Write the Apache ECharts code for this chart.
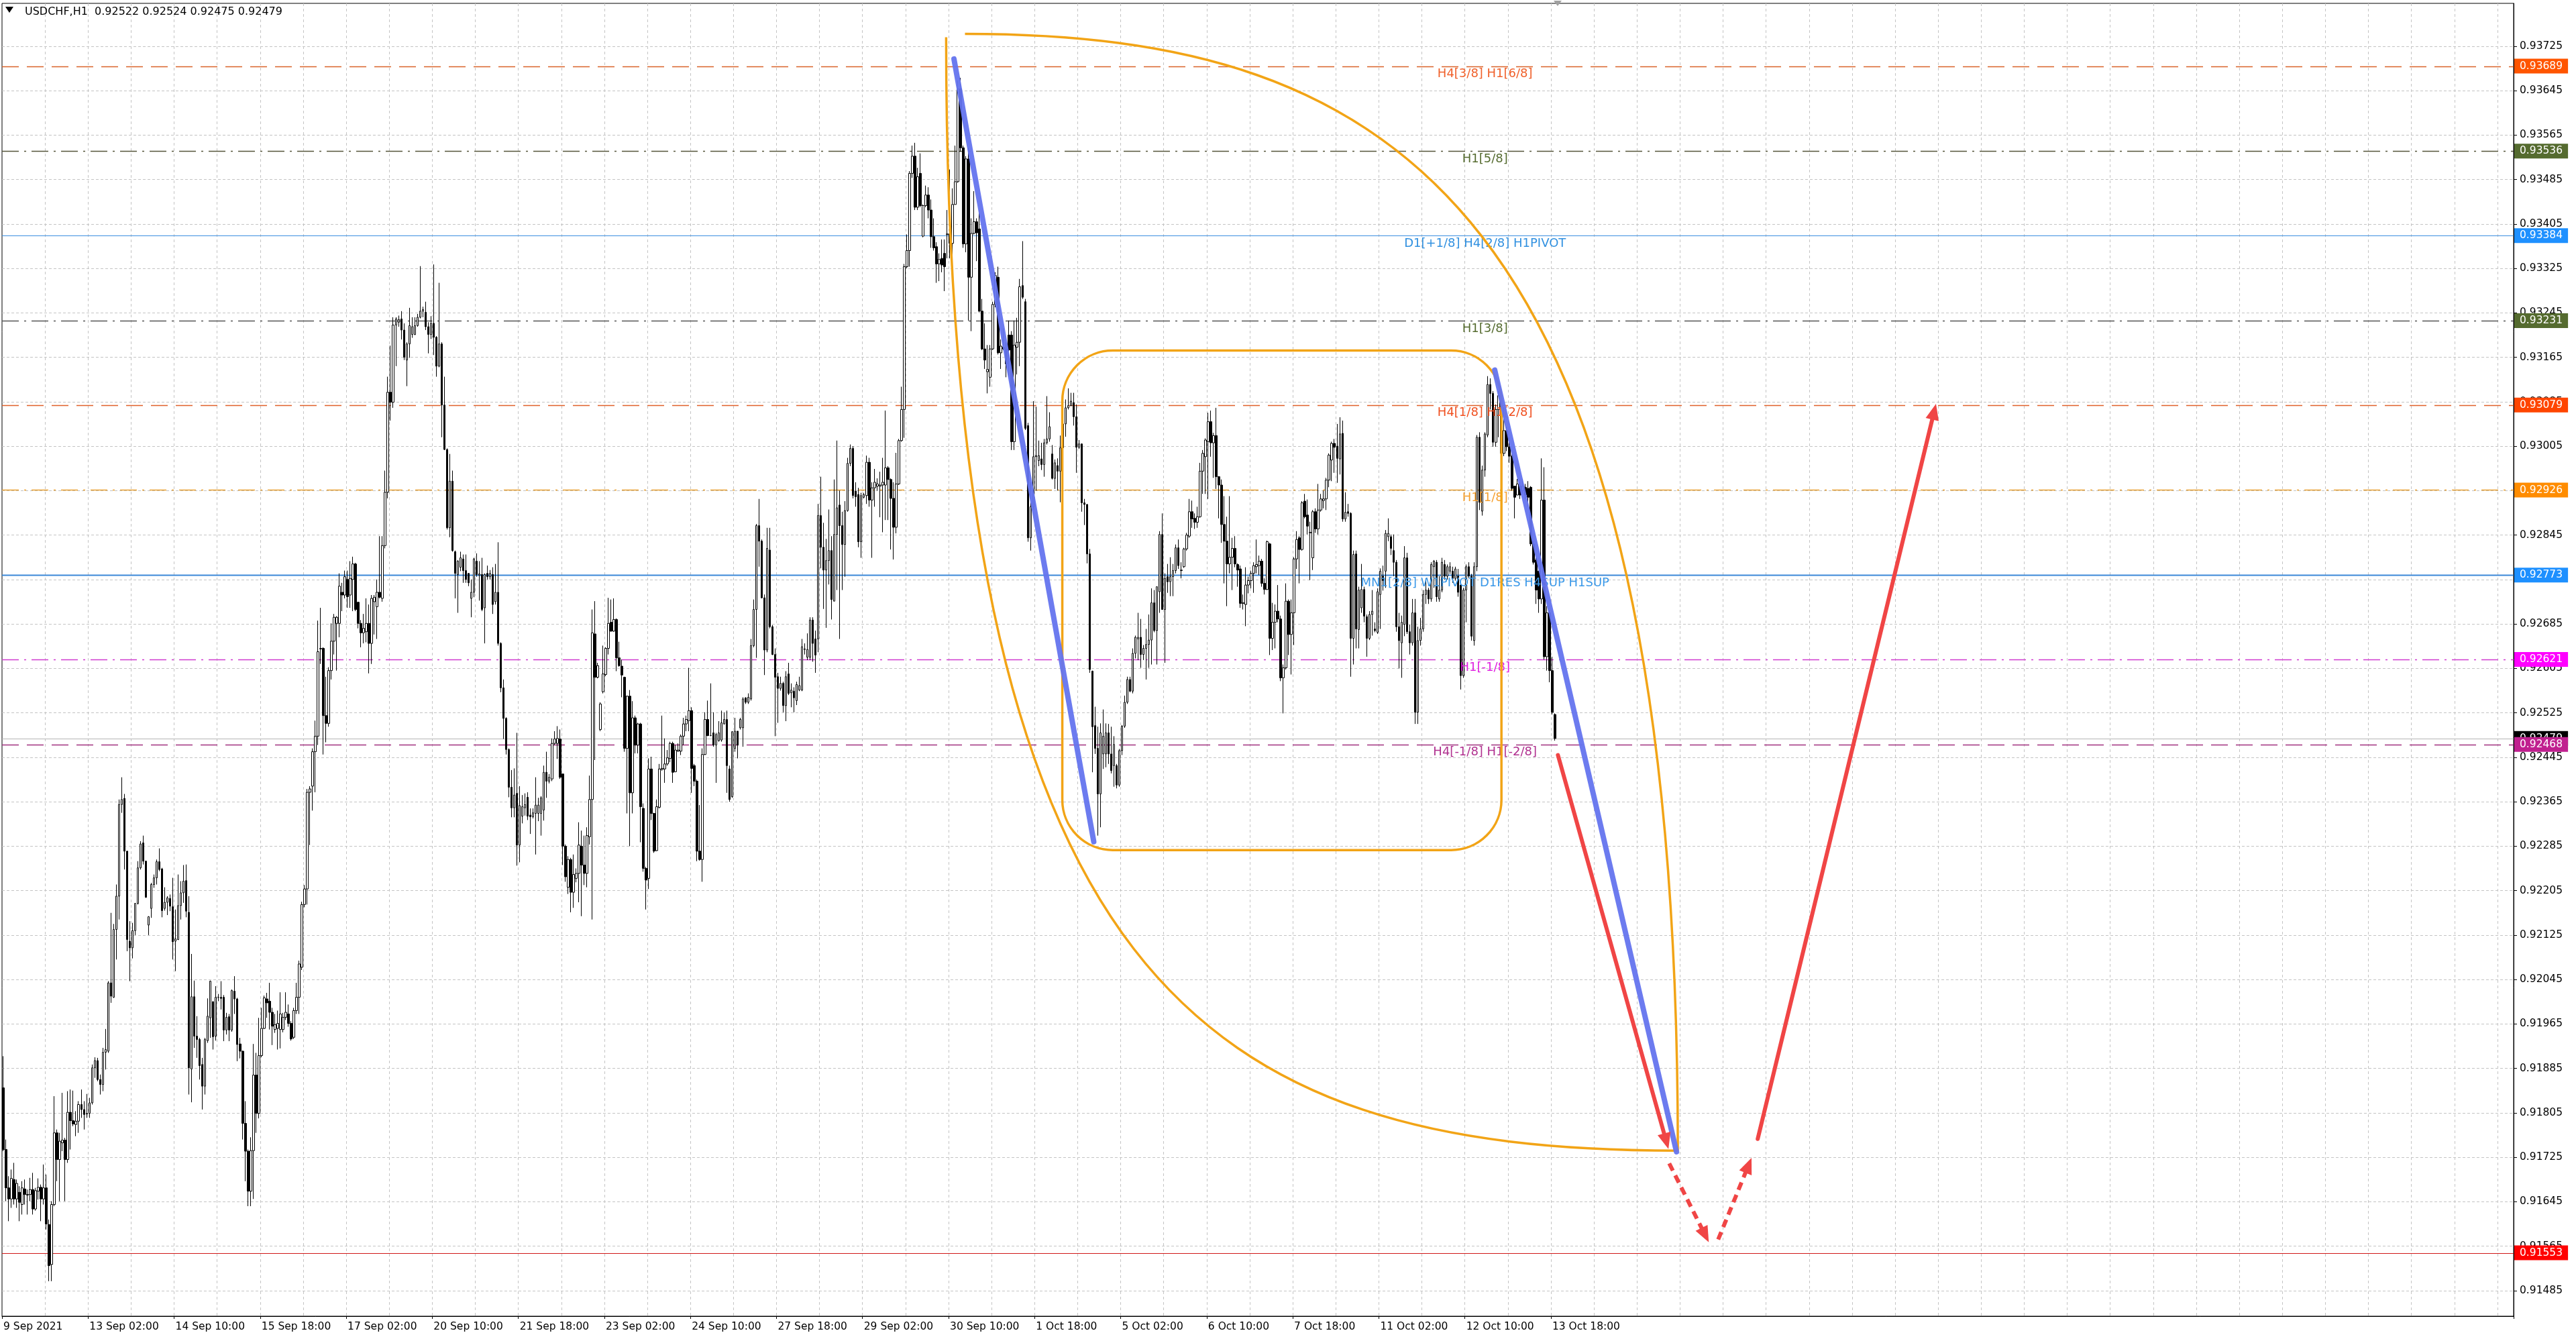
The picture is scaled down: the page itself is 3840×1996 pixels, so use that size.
<!DOCTYPE html>
<html>
<head>
<meta charset="utf-8">
<title>USDCHF,H1</title>
<script src="https://cdn.jsdelivr.net/npm/echarts@6/dist/echarts.min.js"></script>
<style>
  html, body { margin: 0; padding: 0; background: #fff; }
  #chart { width: 3840px; height: 1996px; }
</style>
</head>
<body>
<div id="chart"></div>
<script>
// USDCHF H1 - hourly bars, 9 Sep 2021 18:00 .. 13 Oct 2021 19:00
var symbol = "USDCHF,H1";
var slotCount = 934; // bars that fit in the window incl. the empty shift area

// one label every 32 bars
var tickLabels = ["9 Sep 2021", "13 Sep 02:00", "14 Sep 10:00", "15 Sep 18:00", "17 Sep 02:00",
  "20 Sep 10:00", "21 Sep 18:00", "23 Sep 02:00", "24 Sep 10:00", "27 Sep 18:00", "29 Sep 02:00",
  "30 Sep 10:00", "1 Oct 18:00", "5 Oct 02:00", "6 Oct 10:00", "7 Oct 18:00", "11 Oct 02:00",
  "12 Oct 10:00", "13 Oct 18:00"];

var priceTicks = [0.93725, 0.93645, 0.93565, 0.93485, 0.93405, 0.93325, 0.93245, 0.93165, 0.93085,
  0.93005, 0.92925, 0.92845, 0.92765, 0.92685, 0.92605, 0.92525, 0.92445, 0.92365, 0.92285,
  0.92205, 0.92125, 0.92045, 0.91965, 0.91885, 0.91805, 0.91725, 0.91645, 0.91565, 0.91485];

// open, high, low, close in 0.00001
var bars = [
  [91850,91907,91736,91739],[91739,91757,91646,91670],[91670,91691,91610,91650],[91650,91703,91634,91687],
  [91685,91715,91640,91650],[91650,91685,91634,91678],[91662,91673,91610,91644],[91640,91682,91622,91670],
  [91668,91685,91640,91658],[91658,91667,91622,91657],[91658,91688,91646,91667],[91667,91697,91622,91632],
  [91632,91670,91629,91665],[91664,91687,91649,91671],[91671,91676,91610,91650],[91650,91712,91640,91670],
  [91670,91694,91595,91605],[91604,91613,91502,91530],[91532,91646,91502,91640],[91640,91835,91637,91769],
  [91769,91775,91682,91721],[91721,91769,91646,91754],[91751,91841,91736,91756],[91756,91760,91646,91721],
  [91721,91844,91715,91806],[91806,91847,91739,91791],[91791,91845,91781,91785],[91784,91808,91763,91790],
  [91790,91826,91769,91820],[91820,91847,91796,91811],[91811,91826,91775,91802],[91804,91839,91796,91803],
  [91804,91832,91796,91823],[91823,91892,91820,91886],[91886,91905,91868,91899],[91899,91904,91862,91865],
  [91865,91874,91838,91856],[91856,91922,91844,91914],[91914,91956,91883,91919],[91916,92042,91913,92039],
  [92039,92165,92003,92015],[92013,92145,92012,92135],[92135,92216,92081,92195],[92195,92369,92153,92360],
  [92360,92409,92345,92369],[92371,92379,92243,92276],[92276,92276,92096,92117],[92114,92150,92042,92102],
  [92102,92147,92083,92133],[92133,92182,92125,92182],[92182,92258,92180,92246],[92246,92294,92243,92289],
  [92291,92304,92252,92258],[92258,92259,92192,92193],[92143,92159,92125,92158],[92173,92219,92156,92216],
  [92216,92234,92210,92228],[92228,92261,92216,92257],[92257,92281,92240,92243],[92244,92246,92157,92169],
  [92173,92211,92169,92184],[92184,92195,92161,92192],[92191,92198,92168,92177],[92176,92228,92081,92113],
  [92114,92171,92060,92118],[92117,92234,92116,92178],[92178,92222,92153,92201],[92201,92251,92183,92222],
  [92223,92252,92157,92168],[92166,92195,91838,91886],[91884,92091,91824,92014],[92014,92043,91922,91943],
  [91943,91979,91904,91937],[91937,91940,91865,91890],[91892,91904,91811,91853],[91853,91940,91838,91937],
  [91935,92011,91931,91979],[91976,92043,91940,92042],[92005,92006,91919,91942],[91943,92033,91935,92013],
  [92013,92019,92006,92013],[92013,92042,91991,92011],[92013,92017,91934,91954],[91954,91985,91946,91977],
  [91978,91983,91934,91954],[91954,92027,91951,92025],[92024,92051,91983,92010],[92010,92012,91898,91928],
  [91929,91940,91903,91916],[91916,91917,91757,91786],[91786,91826,91682,91736],[91736,91739,91637,91664],
  [91664,91761,91637,91737],[91737,91929,91650,91873],[91873,91913,91769,91804],[91804,91976,91795,91908],
  [91908,91994,91905,91957],[91957,92016,91956,92012],[92010,92021,91976,92003],
  [92006,92039,91955,91986],[91986,91994,91927,91961],[91955,91983,91949,91964],[91957,91989,91919,91966],
  [91955,92022,91921,91983],[91955,91985,91950,91977],[91977,92022,91972,91986],[91983,92000,91960,91966],
  [91966,91970,91935,91938],[91941,91994,91938,91989],[91989,92039,91983,92013],[92013,92079,91983,92073],
  [92067,92185,92062,92180],[92180,92215,92175,92208],[92208,92388,92180,92382],[92382,92393,92287,92388],
  [92393,92461,92349,92455],[92455,92511,92382,92483],[92483,92691,92467,92635],[92640,92714,92613,92641],
  [92641,92643,92450,92520],[92520,92590,92472,92506],[92506,92607,92500,92601],[92601,92686,92585,92654],
  [92654,92703,92630,92697],[92686,92699,92601,92697],[92686,92776,92661,92753],[92742,92759,92708,92737],
  [92737,92781,92731,92770],[92765,92781,92714,92734],[92737,92798,92714,92767],[92765,92806,92708,92793],
  [92793,92795,92708,92711],[92724,92725,92677,92686],[92686,92692,92643,92669],[92669,92703,92650,92677],
  [92671,92731,92652,92686],[92686,92720,92596,92650],[92650,92737,92613,92731],[92725,92737,92666,92733],
  [92716,92765,92658,92742],[92742,92843,92731,92733],[92731,92843,92725,92826],[92826,92961,92821,92922],
  [92922,93130,92911,93102],[93102,93186,93051,93084],[93084,93237,93074,93223],[93223,93237,93149,93234],
  [93228,93240,93220,93233],[93234,93248,93197,93214],[93214,93226,93160,93165],[93160,93192,93113,93189],
  [93189,93254,93164,93222],[93206,93237,93200,93220],[93206,93237,93205,93222],[93222,93243,93220,93237],
  [93237,93329,93235,93248],[93248,93256,93237,93251],[93246,93265,93214,93220],[93220,93228,93172,93206],
  [93206,93239,93198,93226],[93226,93332,93169,93201],[93201,93203,93130,93149],[93149,93299,93147,93189],
  [93189,93192,93021,93079],[93079,93130,92998,92999],[92999,93001,92855,92858],[92858,92991,92841,92942],
  [92942,92961,92815,92817],[92815,92817,92731,92776],[92774,92800,92705,92798],[92787,92815,92780,92804],
  [92802,92810,92759,92781],[92781,92810,92759,92765],[92776,92776,92753,92759],[92731,92765,92697,92742],
  [92742,92804,92733,92802],[92798,92812,92770,92774],[92773,92798,92727,92775],[92774,92804,92708,92711],
  [92714,92776,92650,92774],[92776,92790,92765,92770],[92770,92782,92765,92776],[92774,92787,92703,92720],
  [92725,92793,92720,92742],[92742,92832,92646,92650],[92650,92652,92562,92570],[92570,92585,92478,92515],
  [92515,92517,92450,92459],[92459,92461,92373,92391],[92391,92422,92337,92354],[92354,92425,92337,92377],
  [92380,92489,92250,92287],[92287,92393,92256,92358],[92339,92377,92326,92356],[92354,92380,92340,92360],
  [92373,92382,92332,92339],
  [92341,92353,92307,92338],[92338,92353,92335,92345],[92344,92409,92270,92359],[92344,92372,92330,92359],
  [92344,92375,92304,92372],[92350,92430,92331,92418],[92418,92455,92372,92402],[92402,92415,92398,92409],
  [92406,92479,92402,92470],[92470,92492,92467,92478],[92470,92501,92442,92479],[92478,92495,92406,92409],
  [92415,92415,92251,92285],[92285,92288,92221,92230],[92211,92267,92199,92261],[92261,92264,92166,92202],
  [92202,92270,92174,92234],[92227,92245,92220,92236],[92236,92328,92184,92287],[92285,92313,92159,92251],
  [92251,92304,92215,92236],[92236,92319,92211,92304],[92302,92412,92288,92369],[92369,92711,92153,92669],
  [92667,92726,92440,92589],[92589,92615,92587,92610],[92495,92544,92492,92541],[92563,92646,92560,92595],
  [92594,92643,92591,92641],[92641,92732,92630,92686],[92688,92729,92671,92672],[92672,92731,92671,92693],
  [92693,92695,92600,92624],[92624,92653,92608,92610],[92609,92621,92553,92593],[92589,92590,92455,92461],
  [92461,92556,92344,92555],[92555,92566,92285,92381],[92381,92546,92344,92516],[92516,92520,92452,92467],
  [92467,92507,92452,92505],[92505,92507,92292,92356],[92353,92362,92239,92245],[92245,92248,92171,92224],
  [92227,92443,92208,92424],[92424,92446,92332,92344],[92344,92345,92273,92276],[92277,92369,92276,92356],
  [92355,92433,92353,92424],[92423,92520,92421,92425],[92424,92479,92399,92433],[92433,92458,92430,92444],
  [92443,92473,92436,92470],[92470,92473,92399,92418],[92419,92467,92418,92458],[92456,92470,92455,92458],
  [92456,92486,92449,92483],[92483,92516,92467,92505],[92505,92520,92492,92513],[92511,92606,92492,92529],
  [92529,92535,92381,92425],[92430,92433,92393,92402],[92402,92405,92258,92276],[92276,92359,92259,92261],
  [92261,92461,92221,92450],[92450,92526,92449,92513],[92513,92547,92483,92484],[92484,92578,92483,92484],
  [92489,92526,92464,92467],[92467,92489,92399,92486],[92475,92510,92473,92489],[92476,92529,92473,92507],
  [92505,92526,92504,92513],[92513,92529,92381,92430],[92424,92430,92365,92369],[92374,92492,92372,92491],
  [92461,92516,92455,92492],[92492,92492,92443,92467],[92498,92516,92495,92513],[92498,92553,92464,92550],
  [92552,92553,92541,92544],[92544,92560,92541,92553],[92550,92658,92547,92646],[92646,92729,92643,92711],
  [92711,92865,92624,92862],[92862,92910,92788,92834],[92834,92837,92731,92732],[92732,92738,92593,92638],
  [92638,92858,92634,92821],[92818,92858,92677,92680],[92680,92683,92629,92630],[92630,92641,92483,92589],
  [92590,92597,92507,92569],[92569,92590,92565,92578],[92578,92581,92526,92538],[92538,92600,92510,92590],
  [92595,92615,92557,92560],[92561,92578,92535,92566],
  [92564,92571,92526,92552],[92547,92581,92539,92576],[92566,92590,92564,92574],[92566,92658,92564,92644],
  [92639,92650,92630,92640],[92625,92668,92620,92639],[92625,92697,92620,92692],[92692,92697,92617,92650],
  [92658,92673,92597,92629],[92658,92901,92634,92880],[92880,92950,92785,92823],[92823,92867,92712,92782],
  [92782,92838,92678,92799],[92799,92891,92756,92817],[92817,92843,92693,92729],[92726,92945,92726,92846],
  [92846,93015,92746,92894],[92899,92925,92658,92862],[92862,92887,92746,92828],[92828,92906,92770,92889],
  [92889,92984,92887,92974],[92974,93008,92969,93001],[93001,93005,92911,92916],[92924,92940,92896,92914],
  [92918,92930,92823,92833],[92833,92921,92804,92916],[92913,92921,92911,92918],[92916,92988,92901,92976],
  [92976,92984,92896,92908],[92908,92940,92804,92930],[92930,92964,92896,92940],[92933,92947,92925,92937],
  [92933,92959,92877,92935],[92935,92984,92850,92940],[92935,93069,92872,92966],[92966,92969,92872,92945],
  [92945,92947,92819,92911],[92911,92940,92801,92859],[92859,92993,92848,92937],[92937,93018,92935,93015],
  [93015,93112,93013,93071],[93071,93333,93020,93328],[93328,93386,93325,93357],[93357,93500,93328,93496],
  [93496,93546,93488,93527],[93527,93551,93430,93435],[93435,93506,93430,93490],[93496,93532,93435,93438],
  [93383,93440,93381,93438],[93438,93474,93435,93457],[93457,93471,93415,93430],[93430,93449,93362,93382],
  [93382,93415,93357,93362],[93364,93372,93299,93333],[93333,93352,93302,93341],[93343,93377,93318,93331],
  [93352,93377,93284,93328],[93386,93430,93343,93387],[93387,93503,93343,93370],[93370,93469,93299,93440],
  [93440,93546,93440,93481],[93481,93663,93479,93648],[93648,93668,93535,93542],[93542,93546,93362,93369],
  [93369,93527,93354,93522],[93522,93542,93231,93309],[93309,93415,93212,93388],[93388,93464,93386,93409],
  [93409,93415,93338,93389],[93396,93430,93246,93248],[93248,93270,93178,93180],[93180,93226,93144,93160],
  [93139,93187,93100,93143],[93129,93187,93112,93180],[93180,93265,93178,93260],[93260,93318,93255,93312],
  [93309,93328,93170,93173],[93173,93197,93144,93185],[93183,93217,93178,93180],[93180,93192,93129,93153],
  [93205,93231,93129,93178],[93205,93212,92998,93013],[93013,93231,92998,93187],[93183,93236,93134,93192],
  [93192,93306,93149,93292],[93294,93374,93270,93273],[93265,93270,93034,93037],[93042,93047,92833,92840],
  [92840,92940,92817,92896],[92896,93086,92891,92986],[92986,93076,92925,92988],[92979,93015,92969,92988],
  [92982,93011,92962,92972],[92972,93018,92950,93011],[93011,93095,93008,93018],[93018,93066,93013,93040],
  [92991,93007,92945,92947],[92947,92981,92928,92975],[92970,92983,92925,92960],[92960,93024,92904,93002],
  [93002,93051,92957,93045],[93045,93089,93022,93074],[93074,93109,93071,93078],[93078,93101,93077,93086],
  [93083,93101,93042,93058],[93058,93080,92957,93003],[93003,93016,93000,93009],[93009,93010,92887,92903],
  [92903,92910,92863,92900],[92900,92901,92794,92811],[92811,92820,92597,92603],[92600,92601,92418,92500],
  [92502,92536,92451,92461],[92461,92500,92304,92379],[92379,92506,92319,92489],[92451,92531,92424,92483],
  [92451,92506,92427,92489],[92489,92505,92433,92451],[92451,92500,92416,92421],[92430,92483,92392,92468],
  [92430,92433,92389,92395],[92395,92460,92392,92457],[92457,92503,92449,92501],[92501,92556,92498,92544],
  [92544,92590,92541,92585],[92585,92590,92562,92564],[92564,92641,92560,92632],[92632,92664,92623,92661],
  [92658,92705,92620,92661],[92661,92694,92606,92630],[92630,92647,92620,92641],[92641,92676,92585,92648],
  [92648,92702,92606,92656],[92656,92749,92612,92723],[92723,92746,92670,92673],[92673,92752,92612,92752],
  [92743,92852,92705,92846],[92846,92884,92711,92711],[92711,92776,92615,92767],[92770,92793,92741,92761],
  [92761,92805,92735,92770],[92770,92793,92735,92781],[92781,92828,92776,92822],[92822,92837,92784,92790],
  [92781,92796,92767,92782],[92788,92822,92786,92820],[92820,92849,92817,92845],[92843,92910,92840,92887],
  [92887,92907,92858,92874],[92875,92884,92856,92868],[92868,92896,92858,92878],[92878,92975,92876,92960],
  [92960,92998,92919,92992],[92986,93019,92919,93016],[93013,93065,92910,93049],[93049,93069,92986,93011],
  [93011,93029,92948,93024],[93024,93074,92928,92950],[92950,92951,92875,92935],[92935,92945,92831,92864],
  [92864,92915,92758,92834],[92834,92878,92717,92793],[92793,92915,92776,92805],[92805,92840,92746,92821],
  [92821,92843,92787,92793],[92792,92794,92752,92782],[92784,92790,92714,92722],[92722,92738,92711,92723],
  [92720,92787,92681,92755],[92755,92770,92740,92763],[92763,92781,92749,92776],[92776,92796,92741,92790],
  [92788,92837,92776,92792],[92790,92808,92773,92798],[92798,92802,92752,92758],[92758,92767,92738,92747],
  [92747,92835,92746,92833],[92829,92831,92629,92659],[92659,92723,92638,92688],[92688,92720,92641,92708],
  [92708,92755,92688,92694],[92694,92700,92582,92588],[92588,92612,92524,92606],[92606,92758,92603,92726],
  [92726,92729,92629,92666],[92666,92729,92594,92705],[92705,92805,92647,92802],[92802,92852,92784,92837],
  [92840,92843,92758,92819],[92819,92906,92817,92903],[92906,92919,92875,92878],[92881,92909,92846,92861],
  [92849,92869,92764,92850],[92804,92890,92782,92887],[92887,92893,92849,92856],[92856,92937,92846,92890],
  [92890,92919,92887,92910],[92907,92925,92893,92910],[92910,92948,92890,92944],[92944,92992,92931,92989],
  [92980,93013,92942,93010],[93010,93018,92957,93003],[93005,93045,92939,92983],[92982,93057,92954,93027],
  [93028,93051,92869,92874],[92874,92922,92869,92886],[92887,92901,92878,92884],[92884,92886,92590,92659],
  [92659,92817,92612,92810],[92811,92817,92641,92676],[92675,92752,92641,92746],[92714,92793,92705,92747],
  [92747,92752,92688,92699],[92698,92702,92626,92659],[92659,92708,92656,92702],[92702,92746,92664,92708],
  [92676,92688,92670,92673],[92670,92749,92667,92743],
  [92738,92785,92676,92780],[92771,92790,92745,92763],[92780,92854,92750,92848],[92842,92875,92834,92848],
  [92842,92846,92809,92821],[92817,92846,92771,92796],[92796,92800,92671,92680],[92680,92705,92605,92655],
  [92651,92700,92588,92688],[92684,92825,92663,92804],[92804,92813,92667,92671],[92671,92684,92630,92651],
  [92651,92730,92646,92705],[92705,92730,92505,92526],[92526,92680,92505,92655],[92655,92696,92646,92676],
  [92676,92746,92671,92738],[92738,92767,92721,92746],[92746,92750,92721,92730],[92730,92796,92725,92792],
  [92788,92800,92750,92798],[92796,92800,92725,92734],[92730,92771,92725,92746],[92746,92804,92742,92796],
  [92792,92800,92765,92771],[92771,92792,92765,92788],[92780,92796,92775,92788],[92780,92788,92759,92767],
  [92767,92788,92763,92784],[92771,92784,92734,92742],[92755,92763,92567,92592],[92592,92750,92588,92746],
  [92746,92792,92688,92788],[92788,92796,92767,92771],[92771,92775,92655,92663],[92655,92796,92646,92788],
  [92788,93025,92780,93021],[93021,93030,92890,92904],[92888,92970,92880,92962],[92962,93030,92950,93027],
  [93025,93131,93021,93116],[93116,93127,93071,93100],[93100,93104,93004,93012],[93012,93080,93004,93071],
  [93071,93104,93021,93096],[93087,93104,92987,92992],[92992,93075,92987,93033],[93033,93040,92996,93004],
  [93004,93021,92975,92987],[92987,92990,92925,92929],[92933,92933,92875,92913],[92917,92946,92917,92937],
  [92933,92940,92910,92917],[92925,92946,92920,92933],[92931,92937,92910,92917],[92929,92942,92896,92913],
  [92931,92933,92825,92829],[92829,92834,92792,92796],[92800,92804,92721,92746],[92780,92781,92705,92730],
  [92730,92983,92721,92908],[92908,92967,92621,92626],[92626,92717,92601,92705],[92705,92709,92580,92601],
  [92601,92626,92522,92526],[92522,92524,92475,92479]
];

// level lines drawn by the indicator
var levelPrices = [0.93689, 0.93536, 0.93384, 0.93231, 0.93079, 0.92926, 0.92773, 0.92621, 0.92468, 0.91553];
var levelNames = ["H4[3/8] H1[6/8]", "H1[5/8]", "D1[+1/8] H4[2/8] H1PIVOT", "H1[3/8]", "H4[1/8] H1[2/8]",
  "H1[1/8]", "MN1[2/8] W1PIVOT D1RES H4SUP H1SUP", "H1[-1/8]", "H4[-1/8] H1[-2/8]", ""];
var levelTextColors = ["#f0602a", "#556b2f", "#3090e0", "#556b2f", "#f05020", "#f5a030", "#3a98e8", "#e020e0", "#b0308f", "#ff0000"];
var levelBoxColors = ["#ff5500", "#556b2f", "#1e90ff", "#556b2f", "#ff4500", "#ff8c00", "#1e90ff", "#ff00ff", "#c0208f", "#ff0000"];
var levelLineColors = ["#d9632a", "#55553a", "#3c8fe0", "#555555", "#e0602a", "#e8a030", "#3a88d8", "#d03cd0", "#a0307f", "#d01818"];
var levelDash = [[25, 12], [25, 8, 3, 8], null, [25, 8, 3, 8], [25, 12], [25, 8, 3, 8], null, [25, 8, 3, 8], [25, 12], null];
var levelWidth = [1.5, 1.5, 1, 1.5, 1.5, 1.5, 2, 1.5, 1.5, 1];
var labelBar = 551;

// hand drawn objects, [bar, price]
var blueLines = [
  [[353.5, 0.93702], [405.5, 0.92293]],
  [[554.6, 0.93142], [622.2, 0.91735]]
];
var roundBox = [[393.8, 0.93177], [557.1, 0.92278]];
var innerArc = [[350.6, 0.93741], [350.6, 0.92038], [445.9, 0.91737], [622.7, 0.91737]];
var outerArc = [[357.6, 0.93747], [516.7, 0.93747], [622.7, 0.93445], [622.7, 0.91737]];
var redArrows = [[[578.1, 0.92449], [619.2, 0.91740]], [[652.4, 0.91758], [718.7, 0.93081]]];
var redDashArrows = [[[619.5, 0.91714], [634.2, 0.91572]], [[637.7, 0.91577], [650.1, 0.91724]]];

var fontName = "DejaVu Sans";
var orange = "#f2a416";
var red = "#f04545";
var blue = "#6474ee";

(function () {
  var myChart = echarts.init(document.getElementById("chart"));

  var categories = [];
  for (var i = 0; i < slotCount; i++) categories.push(i);

  var candleData = bars.map(function (b) {
    return [b[0] / 1e5, b[3] / 1e5, b[2] / 1e5, b[1] / 1e5];
  });
  var last = bars[bars.length - 1];
  var fmt = function (v) { return (v / 1e5).toFixed(5); };
  var titleText = symbol + "  " + fmt(last[0]) + " " + fmt(last[1]) + " " + fmt(last[2]) + " " + fmt(last[3]);
  var lastClose = last[3] / 1e5;

  // boxes on the price scale, current price sits under the 0.92468 box
  var boxPrices = levelPrices.slice(0, 8).concat([lastClose]).concat(levelPrices.slice(8));
  var boxColors = levelBoxColors.slice(0, 8).concat(["#000000"]).concat(levelBoxColors.slice(8));

  // fractional bar index -> pixel through the axis
  function toPx(api, pt) {
    var i0 = Math.floor(pt[0]), f = pt[0] - i0;
    var a = api.coord([i0, pt[1]]);
    var b = api.coord([i0 + 1, pt[1]]);
    return [a[0] + (b[0] - a[0]) * f, a[1]];
  }

  function arrowParts(p, q, dashed) {
    var dx = q[0] - p[0], dy = q[1] - p[1];
    var len = Math.sqrt(dx * dx + dy * dy);
    var ux = dx / len, uy = dy / len;
    var hl = 24, hw = 10;
    var bx = q[0] - ux * hl, by = q[1] - uy * hl;
    return [
      {
        type: "line",
        shape: { x1: p[0], y1: p[1], x2: bx + ux * 3, y2: by + uy * 3 },
        style: { stroke: red, lineWidth: 6, lineCap: dashed ? "butt" : "round", lineDash: dashed ? [12, 8] : null }
      },
      {
        type: "polygon",
        shape: { points: [[q[0], q[1]], [bx - uy * hw, by + ux * hw], [bx + uy * hw, by - ux * hw]] },
        style: { fill: red }
      }
    ];
  }

  option = {
    animation: false,
    backgroundColor: "#ffffff",
    title: {
      text: titleText, left: 32, top: 5,
      textStyle: { fontFamily: fontName, fontSize: 16, fontWeight: "normal", color: "#000" }
    },
    graphic: [{
      type: "polygon", left: 8, top: 10,
      shape: { points: [[0, 0], [12, 0], [6, 9]] },
      style: { fill: "#000" }
    }],
    grid: {
      left: 3, right: 93, top: 5, bottom: 34,
      show: true, borderColor: "#000", borderWidth: 1, backgroundColor: "#fff"
    },
    xAxis: {
      type: "category",
      data: categories,
      boundaryGap: true,
      axisLine: { show: true, lineStyle: { color: "#000" } },
      axisTick: {
        show: true, length: 4, lineStyle: { color: "#000" },
        interval: function (idx) { return idx % 32 === 0 && idx <= 576; }
      },
      axisLabel: {
        show: true, align: "left", margin: 8,
        fontFamily: fontName, fontSize: 15.5, color: "#000",
        interval: function (idx) { return idx % 32 === 0 && idx <= 576; },
        formatter: function (v) { return tickLabels[v / 32] || ""; }
      },
      splitLine: {
        show: true,
        interval: function (idx) { return idx % 16 === 0 && idx > 0; },
        lineStyle: { color: "#c4c4c4", width: 1, type: [4, 4] }
      }
    },
    yAxis: {
      type: "value", position: "right",
      min: 0.91439, max: 0.93802,
      axisLine: { show: true, lineStyle: { color: "#000" } },
      axisTick: { show: true, customValues: priceTicks, length: 5, lineStyle: { color: "#000" } },
      axisLabel: {
        customValues: priceTicks, margin: 9,
        fontFamily: fontName, fontSize: 15.5, color: "#000",
        formatter: function (v) { return v.toFixed(5); }
      },
      splitLine: { show: true, lineStyle: { color: "#c4c4c4", width: 1, type: [4, 3] } }
    },
    series: [
      {
        // indicator level lines + current price line
        name: "levels",
        type: "custom",
        z: 5,
        silent: true,
        clip: false,
        data: [[0, levelPrices[0]]],
        renderItem: function (params, api) {
          var cs = params.coordSys;
          var kids = [];
          var lines = [{ p: lastClose, c: "#b4b4b4", w: 1, d: null }];
          levelPrices.forEach(function (p, k) {
            lines.push({ p: p, c: levelLineColors[k], w: levelWidth[k], d: levelDash[k] });
          });
          lines.forEach(function (ln) {
            var y = Math.round(api.coord([0, ln.p])[1]) + 0.5;
            kids.push({
              type: "line",
              shape: { x1: cs.x, y1: y, x2: cs.x + cs.width, y2: y },
              style: { stroke: ln.c, lineWidth: ln.w, lineDash: ln.d }
            });
          });
          return { type: "group", children: kids };
        }
      },
      {
        name: "USDCHF",
        type: "candlestick",
        data: candleData,
        barWidth: 3,
        z: 6,
        silent: true,
        itemStyle: {
          color: "#ffffff", color0: "#000000",
          borderColor: "#000000", borderColor0: "#000000", borderWidth: 1
        }
      },
      {
        // level names
        name: "levelText",
        type: "custom",
        z: 7,
        silent: true,
        clip: false,
        data: [[0, levelPrices[0]]],
        renderItem: function (params, api) {
          var kids = [];
          levelPrices.forEach(function (p, k) {
            if (!levelNames[k]) return;
            var c = toPx(api, [labelBar, p]);
            kids.push({
              type: "text", x: c[0], y: c[1] + 3,
              style: {
                text: levelNames[k], fill: levelTextColors[k],
                font: "18px '" + fontName + "'", align: "center", verticalAlign: "top"
              }
            });
          });
          return { type: "group", children: kids };
        }
      },
      {
        // drawings
        name: "drawings",
        type: "custom",
        z: 8,
        silent: true,
        clip: false,
        data: [[0, levelPrices[0]]],
        renderItem: function (params, api) {
          var kids = [];
          var a = toPx(api, roundBox[0]), b = toPx(api, roundBox[1]);
          kids.push({
            type: "rect",
            shape: { x: a[0], y: a[1], width: b[0] - a[0], height: b[1] - a[1], r: 75 },
            style: { fill: "none", stroke: orange, lineWidth: 3.5 }
          });
          [innerArc, outerArc].forEach(function (arc) {
            var q = arc.map(function (pt) { return toPx(api, pt); });
            kids.push({
              type: "bezierCurve",
              shape: { x1: q[0][0], y1: q[0][1], cpx1: q[1][0], cpy1: q[1][1], cpx2: q[2][0], cpy2: q[2][1], x2: q[3][0], y2: q[3][1] },
              style: { fill: "none", stroke: orange, lineWidth: 3.5 }
            });
          });
          blueLines.forEach(function (ln) {
            var p = toPx(api, ln[0]), q = toPx(api, ln[1]);
            kids.push({
              type: "line",
              shape: { x1: p[0], y1: p[1], x2: q[0], y2: q[1] },
              style: { stroke: blue, lineWidth: 8, lineCap: "round", opacity: 0.95 }
            });
          });
          redArrows.forEach(function (ln) {
            kids = kids.concat(arrowParts(toPx(api, ln[0]), toPx(api, ln[1]), false));
          });
          redDashArrows.forEach(function (ln) {
            kids = kids.concat(arrowParts(toPx(api, ln[0]), toPx(api, ln[1]), true));
          });
          // chart shift marker above the last bar
          var m = toPx(api, [bars.length, 0.93802]);
          kids.push({
            type: "polygon",
            shape: { points: [[m[0] - 6, m[1] - 4], [m[0] + 6, m[1] - 4], [m[0], m[1] + 4]] },
            style: { fill: "#a0a0a0" }
          });
          return { type: "group", children: kids };
        }
      },
      {
        // price boxes on the right scale
        name: "priceBoxes",
        type: "custom",
        z: 9,
        silent: true,
        clip: false,
        data: [[0, levelPrices[0]]],
        renderItem: function (params, api) {
          var cs = params.coordSys;
          var kids = boxPrices.map(function (p, k) {
            var y = api.coord([0, p])[1];
            return {
              type: "text", x: cs.x + cs.width + 1, y: y,
              style: {
                text: p.toFixed(5), fill: "#ffffff",
                font: "15.5px '" + fontName + "'", align: "left", verticalAlign: "middle",
                backgroundColor: boxColors[k], padding: [3, 8, 3, 8]
              }
            };
          });
          return { type: "group", children: kids };
        }
      }
    ]
  };

  myChart.setOption(option);
  window.addEventListener("resize", function () {
    myChart.resize();
  });
})();
</script>
</body>
</html>
